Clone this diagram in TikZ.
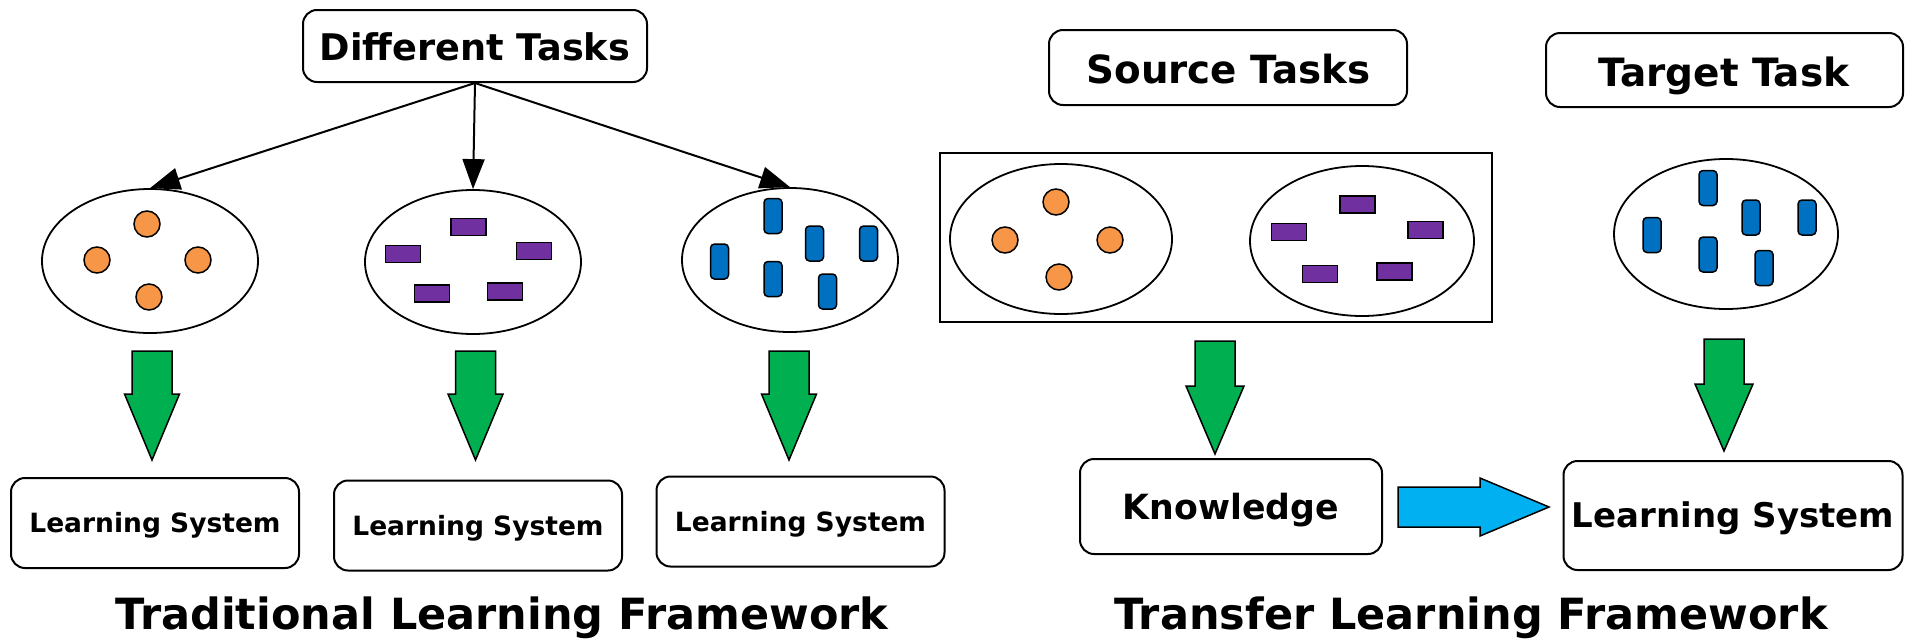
\documentclass[tikz,border=0pt]{standalone}
\usepackage{fontspec}
\setmainfont{DejaVu Sans}
\usetikzlibrary{shapes.geometric,arrows.meta}
\definecolor{greenC}{HTML}{00B050}
\definecolor{cyanC}{HTML}{00B0F0}
\definecolor{orangeC}{HTML}{F79646}
\definecolor{purpleC}{HTML}{7030A0}
\definecolor{blueC}{HTML}{0070C0}
\newcommand\greenarrow[6]{%
  \draw[garrow] (#1-#5,#2) -- (#1+#5,#2) -- (#1+#5,#3) -- (#1+#6,#3) -- (#1,#4) -- (#1-#6,#3) -- (#1-#5,#3) -- cycle;}
\tikzset{
  rbox/.style={draw, line width=2pt, rounded corners=14pt, inner sep=0, text depth=0pt},
  fs/.style={font=\bfseries\fontsize{#1}{#1}\selectfont},
  oval/.style={draw, ellipse, line width=1.8pt, inner sep=0},
  dot/.style={draw, ellipse, fill=orangeC, line width=1.5pt, minimum width=26pt, minimum height=26pt, inner sep=0},
  prect/.style={draw, fill=purpleC, line width=1.5pt, minimum width=35pt, minimum height=17pt, inner sep=0},
  brect/.style={draw, fill=blueC, rounded corners=4pt, line width=1.5pt, minimum width=18pt, minimum height=35pt, inner sep=0},
  garrow/.style={draw, fill=greenC, line width=1.5pt, line join=miter},
  carrow/.style={draw, fill=cyanC, line width=1.5pt},
  tarr/.style={-{Triangle[length=30pt,width=22pt]}, line width=2pt},
  ttl/.style={anchor=base, inner sep=0, font=\bfseries\fontsize{43}{43}\selectfont}
}
\begin{document}
\begin{tikzpicture}[x=1pt,y=-1pt]
\useasboundingbox[fill=white] (0,0) rectangle (1905,640);
% ---------- Traditional ----------
\node[rbox, minimum width=344pt, minimum height=72pt] (dt) at (475,46) {};
\node[fs=36.7, text height=26.8pt, text depth=0pt, inner sep=0] at (475,47.5) {Different Tasks};
\node[oval, minimum width=216pt, minimum height=144pt] (e1) at (150,261) {};
\node[oval, minimum width=216pt, minimum height=144pt] (e2) at (473,262) {};
\node[oval, minimum width=216pt, minimum height=144pt] (e3) at (790,260) {};
\draw[tarr] (dt.south) -- (e1.north);
\draw[tarr] (dt.south) -- (e2.north);
\draw[tarr] (dt.south) -- (e3.north);
% items
\node[dot] (o1) at (147,224) {};
\node[dot] (o2) at (97,260) {};
\node[dot] (o3) at (198,260) {};
\node[dot] (o4) at (149,297) {};
\node[prect] (p1) at (468.5,227) {};
\node[prect] (p2) at (403,254) {};
\node[prect] (p3) at (534,251) {};
\node[prect] (p4) at (432,293.5) {};
\node[prect] (p5) at (505,291.5) {};
\node[brect] (b1) at (773,216) {};
\node[brect] (b2) at (814.5,243.5) {};
\node[brect] (b3) at (868.5,243.5) {};
\node[brect] (b4) at (719.5,261.5) {};
\node[brect] (b5) at (773,279) {};
\node[brect] (b6) at (827.5,291.5) {};
\greenarrow{152}{351}{394}{460}{20}{27.5}
\greenarrow{475.5}{351}{394}{460}{20}{27.5}
\greenarrow{789}{351}{394}{460}{20}{27.5}
\node[rbox, fs=26.5, text height=19.3pt, minimum width=288pt, minimum height=90pt] (ls1) at (155,523) {Learning System};
\node[rbox, fs=26.5, text height=19.3pt, minimum width=288pt, minimum height=90pt] (ls2) at (478,525.5) {Learning System};
\node[rbox, fs=26.5, text height=19.3pt, minimum width=288pt, minimum height=90pt] (ls3) at (800.5,521.5) {Learning System};
\node[ttl] (t1) at (502,629) {Traditional Learning Framework};
% ---------- Transfer ----------
\node[rbox, minimum width=358pt, minimum height=75pt] (st) at (1228,67.5) {};
\node[fs=38.8, text height=28.3pt, text depth=0pt, inner sep=0] at (1228.5,69.5) {Source Tasks};
\node[rbox, minimum width=357pt, minimum height=74pt] (tt) at (1724.5,70) {};
\node[fs=39, text height=28.5pt, text depth=0pt, inner sep=0] at (1724,72) {Target Task};
\node[draw, line width=2pt, minimum width=552pt, minimum height=169pt, inner sep=0] (src) at (1216,237.5) {};
\node[oval, minimum width=222pt, minimum height=150pt] (e4) at (1061,239) {};
\node[oval, minimum width=224pt, minimum height=150pt] (e5) at (1362,241) {};
\node[oval, minimum width=224pt, minimum height=150pt] (e6) at (1726,234) {};
\node[dot] (o5) at (1056,202) {};
\node[dot] (o6) at (1005,240) {};
\node[dot] (o7) at (1110,240) {};
\node[dot] (o8) at (1059,277) {};
\node[prect] (p6) at (1357.5,204.5) {};
\node[prect] (p7) at (1289,232) {};
\node[prect] (p8) at (1425.5,230) {};
\node[prect] (p9) at (1320,274) {};
\node[prect] (p10) at (1394.5,271.5) {};
\node[brect] (b7) at (1708,188) {};
\node[brect] (b8) at (1751,217.5) {};
\node[brect] (b9) at (1807,217.5) {};
\node[brect] (b10) at (1652,235) {};
\node[brect] (b11) at (1708,254.5) {};
\node[brect] (b12) at (1764,268) {};
\greenarrow{1215}{341}{386}{454}{20}{29}
\greenarrow{1724}{339}{384}{451}{20}{29}
\node[rbox, fs=34.7, text height=25.3pt, minimum width=302pt, minimum height=95pt] (kn) at (1231,506.5) {Knowledge};
\node[rbox, fs=34, text height=24.8pt, minimum width=339pt, minimum height=109pt] (ls4) at (1733,515.5) {Learning System};
\draw[carrow] (1398,487) -- (1480,487) -- (1480,478) -- (1549,507) -- (1480,536) -- (1480,527) -- (1398,527) -- cycle;
\node[ttl] (t2) at (1471,629) {Transfer Learning Framework};
\end{tikzpicture}
\end{document}
